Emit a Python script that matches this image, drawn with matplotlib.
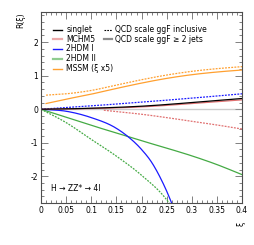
import numpy as np
import matplotlib
matplotlib.use("Agg")
import matplotlib.pyplot as plt
from matplotlib.ticker import MultipleLocator

# xi values and R(xi) curves
xi = [0.0, 0.05, 0.1, 0.15, 0.2, 0.25, 0.3, 0.35, 0.4]
singlet_jets = [0.0, 0.01, 0.03, 0.055, 0.09, 0.14, 0.2, 0.26, 0.32]
mchm5_jets = [0.0, 0.008, 0.02, 0.04, 0.07, 0.115, 0.17, 0.225, 0.28]
hdm2_jets = [0.0, 0.05, 0.1, 0.155, 0.21, 0.27, 0.33, 0.395, 0.46]
hdm3_jets = [0.0, -0.24, -0.48, -0.71, -0.94, -1.16, -1.39, -1.65, -1.95]

mchm5_incl_xi = [0.125, 0.15, 0.2, 0.25, 0.3, 0.35, 0.4]
mchm5_incl = [-0.03, -0.07, -0.15, -0.25, -0.36, -0.47, -0.59]

hdm1_xi = [0.0, 0.05, 0.1, 0.15, 0.17, 0.2, 0.22, 0.24, 0.25, 0.26]
hdm1_incl = [0.0, -0.06, -0.25, -0.57, -0.78, -1.2, -1.58, -2.12, -2.44, -2.8]

hdm2_incl_xi = [0.0, 0.05, 0.1, 0.15, 0.2, 0.25, 0.255]
hdm2_incl = [0.0, -0.4, -0.9, -1.4, -1.97, -2.7, -2.8]

mssm_xi = [0.01, 0.05, 0.1, 0.15, 0.2, 0.25, 0.3, 0.35, 0.4]
mssm_jets = [0.17, 0.3, 0.45, 0.62, 0.78, 0.92, 1.03, 1.11, 1.17]
mssm_incl = [0.42, 0.46, 0.56, 0.72, 0.88, 1.02, 1.13, 1.21, 1.27]

c_red = "#e07070"
c_blue = "#1a1aff"
c_green = "#44aa44"
c_orange = "#ffa030"

fs = 5.5
fig = plt.figure(figsize=(2.55, 2.45), dpi=100)
ax = fig.add_axes([0.161, 0.171, 0.788, 0.78])


def smooth(x, y, n=20):
    # cubic hermite through the read points
    x = np.asarray(x, float); y = np.asarray(y, float)
    m = np.gradient(y, x)
    xs, ys = [], []
    for i in range(len(x) - 1):
        h = x[i + 1] - x[i]
        t = np.linspace(0, 1, n, endpoint=False)
        h00 = 2*t**3 - 3*t**2 + 1; h10 = t**3 - 2*t**2 + t
        h01 = -2*t**3 + 3*t**2; h11 = t**3 - t**2
        xs.append(x[i] + t*h)
        ys.append(h00*y[i] + h10*h*m[i] + h01*y[i+1] + h11*h*m[i+1])
    xs.append([x[-1]]); ys.append([y[-1]])
    return np.concatenate(xs), np.concatenate(ys)


lw = 0.9
dot = (0, (1.5, 1))
ax.plot([0, 0.4], [0, 0], color="0.6", lw=1.0, alpha=0.5)
ax.plot(*smooth(xi, hdm3_jets), color=c_green, lw=lw)
ax.plot(*smooth(hdm2_incl_xi, hdm2_incl), color=c_green, lw=lw, ls=dot)
ax.plot(*smooth(hdm1_xi, hdm1_incl), color=c_blue, lw=lw)
ax.plot(*smooth(xi, hdm2_jets), color=c_blue, lw=lw, ls=dot)
ax.plot(*smooth(mchm5_incl_xi, mchm5_incl), color=c_red, lw=lw, ls=dot)
ax.plot(*smooth(xi, mchm5_jets), color=c_red, lw=lw)
ax.plot(*smooth(xi, singlet_jets), color="black", lw=lw)
ax.plot(*smooth(mssm_xi, mssm_jets), color=c_orange, lw=lw)
ax.plot(*smooth(mssm_xi, mssm_incl), color=c_orange, lw=lw, ls=dot)

ax.set_xlim(0, 0.4)
ax.set_ylim(-2.8, 2.9)
ax.xaxis.set_minor_locator(MultipleLocator(0.01))
ax.yaxis.set_minor_locator(MultipleLocator(0.2))
ax.set_xticks([0, 0.05, 0.1, 0.15, 0.2, 0.25, 0.3, 0.35, 0.4])
ax.set_xticklabels(["0", "0.05", "0.1", "0.15", "0.2", "0.25", "0.3", "0.35", "0.4"])
ax.set_yticks([-2, -1, 0, 1, 2])
ax.set_yticklabels(["-2", "-1", "0", "1", "2"])
ax.tick_params(which="both", direction="in", top=True, right=True,
               labelsize=fs, width=0.5, pad=2, colors="0.3", labelcolor="black")
ax.tick_params(which="major", length=5)
ax.tick_params(which="minor", length=2.5)
for s in ax.spines.values():
    s.set_linewidth(0.8)
    s.set_color("0.3")

fig.text(0.08, 0.95, "R(ξ)", rotation=90, fontsize=fs, ha="center", va="top")
fig.text(0.945, 0.085, "ξ", rotation=90, fontsize=fs, ha="center", va="center")
ax.text(0.05, 0.065, "H → ZZ* → 4l", fontsize=fs, transform=ax.transAxes)

# legend drawn by hand
left = [("singlet", "black"), ("MCHM5", c_red), ("2HDM I", c_blue),
        ("2HDM II", c_green), ("MSSM (ξ x5)", c_orange)]
ys = [0.907, 0.857, 0.807, 0.756, 0.704]
for (lab, col), y in zip(left, ys):
    thin = col in ("black", c_blue, c_orange)
    ax.plot([0.06, 0.105], [y, y], color=col, lw=1.0 if thin else 1.6,
            alpha=1.0 if thin else 0.6, transform=ax.transAxes)
    ax.text(0.125, y, lab, fontsize=fs, va="center", transform=ax.transAxes)
ax.plot([0.315, 0.355], [ys[0], ys[0]], color="black", lw=0.8, ls=dot, transform=ax.transAxes)
ax.text(0.37, ys[0], "QCD scale ggF inclusive", fontsize=fs, va="center", transform=ax.transAxes)
ax.plot([0.315, 0.355], [ys[1], ys[1]], color="0.55", lw=1.6, transform=ax.transAxes)
ax.text(0.37, ys[1], "QCD scale ggF ≥ 2 jets", fontsize=fs, va="center", transform=ax.transAxes)

fig.savefig("out.png", dpi=100)
